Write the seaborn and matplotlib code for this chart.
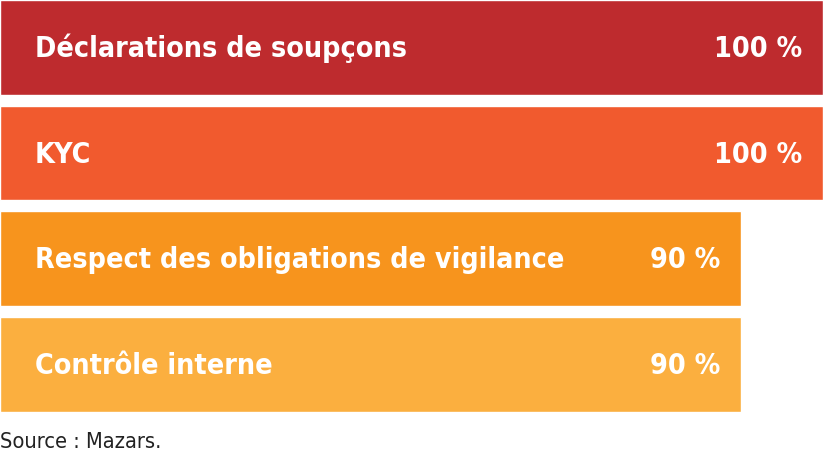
import matplotlib
matplotlib.use("Agg")
import matplotlib.pyplot as plt
from matplotlib import font_manager as fm
import seaborn as sns
import pandas as pd

categories = ["Déclarations de soupçons", "KYC",
              "Respect des obligations de vigilance", "Contrôle interne"]
values = [100, 100, 90, 90]
value_labels = ["100 %", "100 %", "90 %", "90 %"]
colors = ["#BE2B2E", "#F15A2E", "#F7941D", "#FBAF3F"]
source = "Source : Mazars."

sns.set_style("white")

# look for a narrow face, else fall back on Lato
names = {(f.name, f.stretch) for f in fm.fontManager.ttflist}
stretch = "normal"
if any(n == "Liberation Sans Narrow" for n, s in names):
    family = "Liberation Sans Narrow"
elif any(n == "DejaVu Sans" and s in ("condensed", "semi-condensed") for n, s in names):
    family = "DejaVu Sans"
    stretch = "condensed"
else:
    family = "Lato"
plt.rcParams['font.family'] = [family, 'DejaVu Sans']

df = pd.DataFrame({"cat": categories, "val": values})

fig = plt.figure(figsize=(8.23, 4.61), dpi=100)
top_frac = 411.7 / 461
ax = fig.add_axes([0, 1 - top_frac, 1, top_frac])

w = 0.895
sns.barplot(data=df, y="cat", x="val", hue="cat", palette=colors,
            legend=False, width=w, ax=ax, orient="h", saturation=1)

ax.set_xlim(0, 100)
ax.set_ylim(len(categories) - 1 + w / 2, -w / 2)
ax.axis("off")

# size the text so the first label is as wide as in the reference (~372 px)
renderer = fig.canvas.get_renderer()
probe = fig.text(0, 0, categories[0], fontsize=25, fontweight="bold", fontstretch=stretch)
size = 25 * 372 / probe.get_window_extent(renderer).width
size = min(size, 25)
probe.remove()

# labels and values sit on the same baseline, a bit under the bar centre
for i, (cat, v, lab) in enumerate(zip(categories, values, value_labels)):
    ax.text(4.25, i + 0.09, cat, color="white", fontsize=size, fontweight="bold",
            fontstretch=stretch, va="baseline", ha="left")
    ax.text(v - 2.5, i + 0.09, lab, color="white", fontsize=size, fontweight="bold",
            fontstretch=stretch, va="baseline", ha="right")

probe = fig.text(0, 0, source, fontsize=16, fontstretch=stretch)
ssize = min(16 * 163 / probe.get_window_extent(renderer).width, 16)
probe.remove()
fig.text(0.0, 1 - 448 / 461, source, fontsize=ssize, color="#222222",
         fontstretch=stretch, va="baseline", ha="left")

fig.savefig("out.png", dpi=100)
